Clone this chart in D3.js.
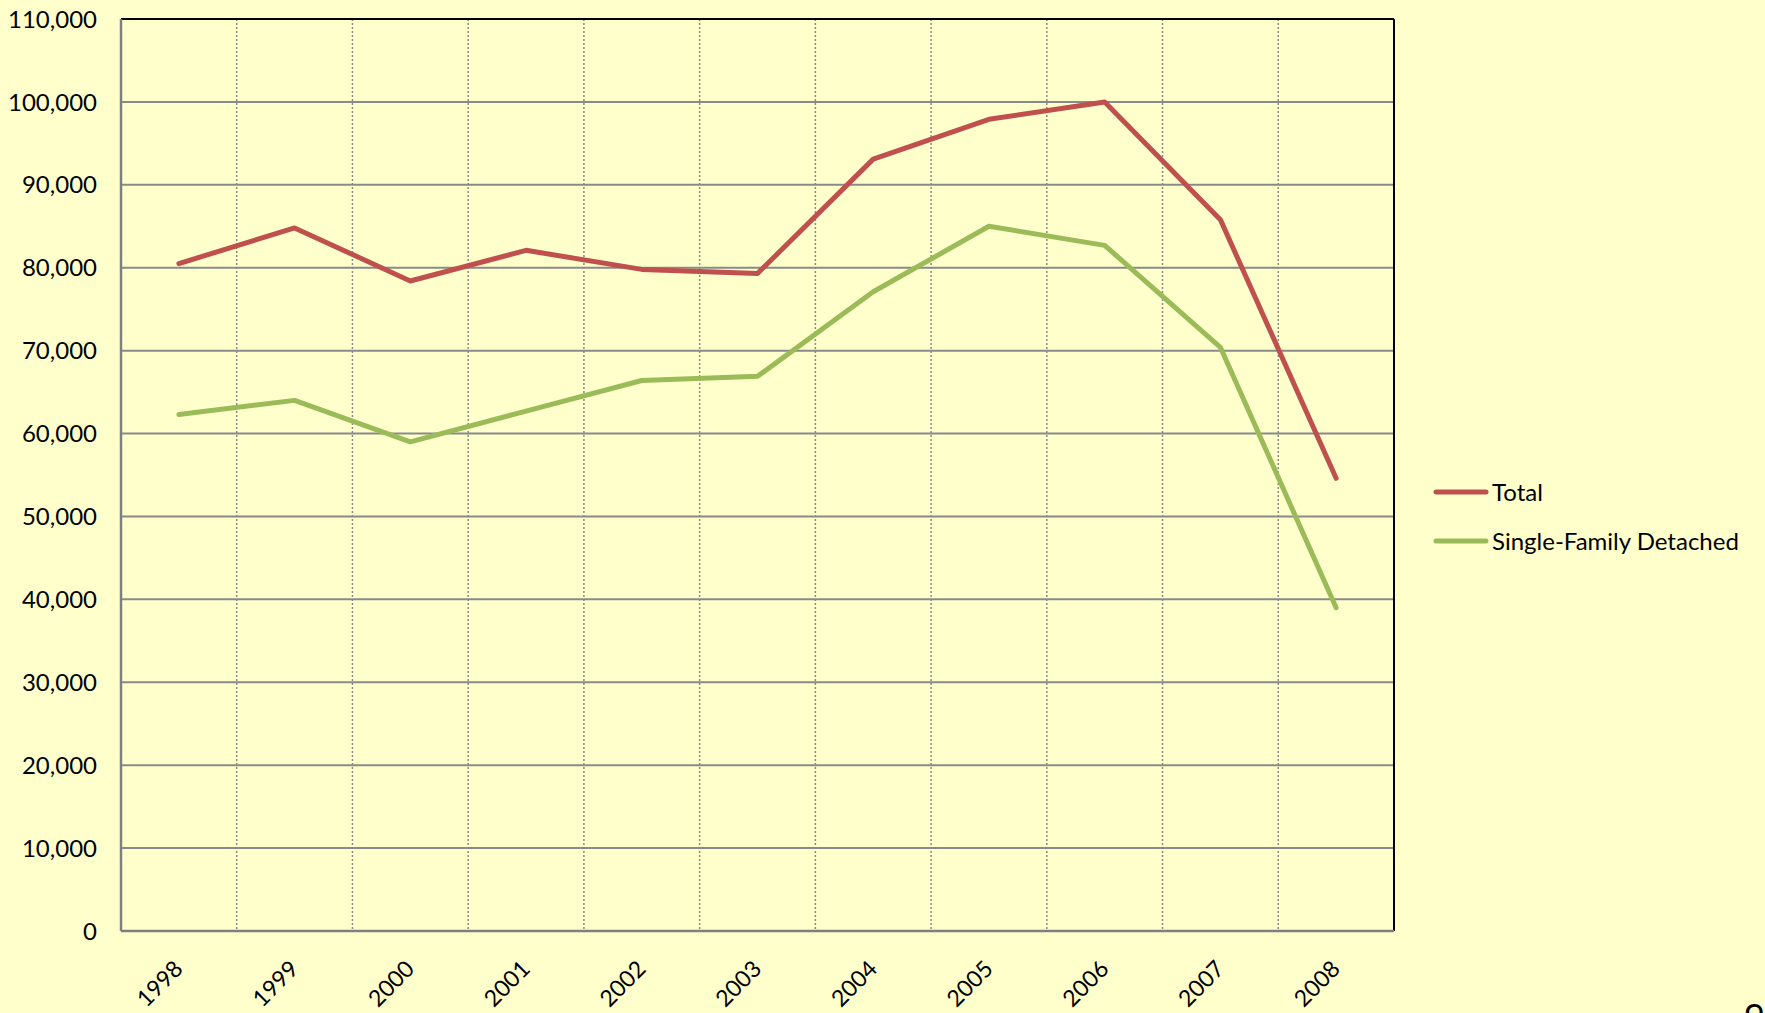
<!DOCTYPE html>
<html>
<head>
<meta charset="utf-8">
<script src="https://cdn.jsdelivr.net/npm/d3@7"></script>
<style>
  html, body { margin: 0; padding: 0; background: #FFFFCC; overflow: hidden; }
  svg { display: block; font-family: Lato, "Open Sans", sans-serif; }
</style>
</head>
<body>
<svg id="chart" width="1765" height="1013"></svg>
<script>
// ---- données ----
let years = ["1998","1999","2000","2001","2002","2003","2004","2005","2006","2007","2008"];
let totalValues = [80500, 84800, 78400, 82100, 79800, 79300, 93100, 97900, 100000, 85800, 54600];
let singleFamilyValues = [62300, 64000, 59000, 62700, 66400, 66900, 77100, 85000, 82700, 70400, 39000];
let yTicks = [0, 10000, 20000, 30000, 40000, 50000, 60000, 70000, 80000, 90000, 100000, 110000];

let series = [
  { name: "Total", values: totalValues, color: "#C0504D" },
  { name: "Single-Family Detached", values: singleFamilyValues, color: "#9BBB59" }
];

// ---- dimensions ----
let plotLeft = 121, plotRight = 1394, plotTop = 19, plotBottom = 931;

let svg = d3.select("#chart");

let x = d3.scaleBand().domain(years).range([plotLeft, plotRight]).paddingInner(0).paddingOuter(0);
let y = d3.scaleLinear().domain([0, 110000]).range([plotBottom, plotTop]);

let fmt = d3.format(",");

// fond
svg.append("rect").attr("width", 1765).attr("height", 1013).attr("fill", "#FFFFCC");

// lignes horizontales
svg.append("g")
  .selectAll("line")
  .data(yTicks.filter(d => d > 0 && d < 110000))
  .join("line")
  .attr("x1", plotLeft).attr("x2", plotRight)
  .attr("y1", d => y(d)).attr("y2", d => y(d))
  .attr("stroke", "#8a8a8a")
  .attr("stroke-width", 2);

// lignes verticales pointillées (entre les catégories)
svg.append("g")
  .selectAll("line")
  .data(years.slice(1))
  .join("line")
  .attr("x1", d => x(d)).attr("x2", d => x(d))
  .attr("y1", plotTop).attr("y2", plotBottom)
  .attr("stroke", "#8a8a8a")
  .attr("stroke-width", 1.5)
  .attr("stroke-dasharray", "2,2");

// cadre : haut et droite noirs
svg.append("line").attr("x1", plotLeft).attr("x2", plotRight).attr("y1", plotTop).attr("y2", plotTop)
  .attr("stroke", "#000").attr("stroke-width", 2);
svg.append("line").attr("x1", plotRight).attr("x2", plotRight).attr("y1", plotTop).attr("y2", plotBottom)
  .attr("stroke", "#000").attr("stroke-width", 2);

// axes gris
svg.append("line").attr("x1", plotLeft).attr("x2", plotLeft).attr("y1", plotTop).attr("y2", plotBottom)
  .attr("stroke", "#7f7f7f").attr("stroke-width", 2.5);
svg.append("line").attr("x1", plotLeft).attr("x2", plotRight).attr("y1", plotBottom).attr("y2", plotBottom)
  .attr("stroke", "#7f7f7f").attr("stroke-width", 2.5);

// labels axe Y
svg.append("g")
  .selectAll("text")
  .data(yTicks)
  .join("text")
  .attr("x", 97)
  .attr("y", d => y(d))
  .attr("dy", "0.36em")
  .attr("text-anchor", "end")
  .attr("font-size", 24)
  .attr("fill", "#000")
  .text(d => fmt(d));

// labels axe X (rotation -45)
svg.append("g")
  .selectAll("text")
  .data(years)
  .join("text")
  .attr("transform", d => `translate(${x(d) + x.bandwidth() / 2 - 6},${plotBottom + 28}) rotate(-45)`)
  .attr("text-anchor", "end")
  .attr("dy", "0.7em")
  .attr("font-size", 23)
  .attr("fill", "#000")
  .text(d => d);

// courbes
let line = d3.line()
  .x((d, i) => x(years[i]) + x.bandwidth() / 2)
  .y(d => y(d));

series.forEach(s => {
  svg.append("path")
    .datum(s.values)
    .attr("d", line)
    .attr("fill", "none")
    .attr("stroke", s.color)
    .attr("stroke-width", 5)
    .attr("stroke-linejoin", "round")
    .attr("stroke-linecap", "round");
});

// légende
let legend = svg.append("g");
series.forEach((s, i) => {
  let ly = 492 + i * 49;
  legend.append("line")
    .attr("x1", 1436).attr("x2", 1486)
    .attr("y1", ly).attr("y2", ly)
    .attr("stroke", s.color)
    .attr("stroke-width", 5)
    .attr("stroke-linecap", "round");
  legend.append("text")
    .attr("x", 1492).attr("y", ly)
    .attr("dy", "0.36em")
    .attr("font-size", 24)
    .attr("fill", "#000")
    .text(s.name);
});

// numéro de page coupé en bas à droite
svg.append("text")
  .attr("x", 1744).attr("y", 1030)
  .attr("font-size", 36)
  .attr("fill", "#000")
  .text("9");
</script>
</body>
</html>
